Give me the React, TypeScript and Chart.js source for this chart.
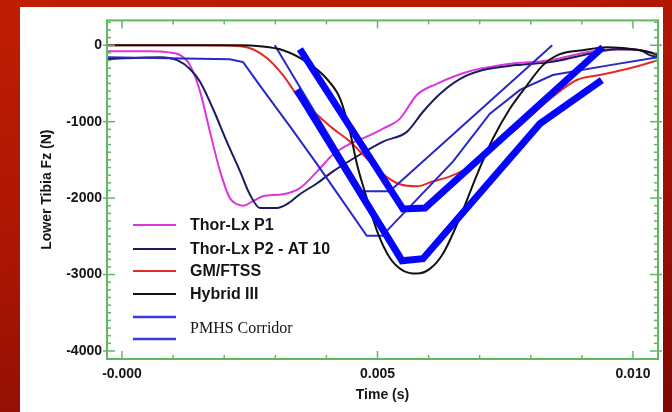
import React, { useEffect, useRef } from "react";
import { Chart, registerables } from "chart.js";

Chart.register(...registerables);

// ---- axis ticks ----
const X_TICKS = [0, 0.005, 0.01];
const X_TICK_LABELS = ["-0.000", "0.005", "0.010"];
const Y_TICKS = [0, -1000, -2000, -3000, -4000];
const X_MIN = -0.000294;
const X_MAX = 0.01049;
const Y_MIN = -4105;
const Y_MAX = 325;

// ---- series (time in s, Fz in N) ----
const THOR_P1_T = [-0.00029, 0.00055, 0.00088, 0.00114, 0.00133, 0.00153, 0.00172, 0.00192, 0.00211, 0.00225, 0.00237, 0.00256, 0.00276, 0.00315, 0.00348, 0.00382, 0.00413, 0.00446, 0.00479, 0.00511, 0.00544, 0.00577, 0.00616, 0.00675, 0.0074, 0.00838, 0.00935, 0.01, 0.01049];
const THOR_P1_FZ = [-80, -80, -90, -130, -260, -610, -1130, -1650, -2000, -2080, -2100, -2040, -1975, -1950, -1870, -1650, -1430, -1290, -1195, -1090, -960, -650, -505, -350, -260, -195, -65, -52, -117];

const THOR_P2_T = [-0.00029, 0.00074, 0.00108, 0.00133, 0.00153, 0.00178, 0.00205, 0.00231, 0.0025, 0.0027, 0.00303, 0.00323, 0.00348, 0.00382, 0.00413, 0.00466, 0.00511, 0.00558, 0.00589, 0.00622, 0.00661, 0.00706, 0.00773, 0.00838, 0.00902, 0.00969, 0.01014, 0.01033, 0.01049];
const THOR_P2_FZ = [-182, -156, -195, -312, -481, -831, -1260, -1650, -1949, -2130, -2130, -2078, -1949, -1805, -1650, -1429, -1260, -1130, -870, -637, -442, -325, -260, -221, -130, -52, -65, -130, -156];

const GM_FTSS_T = [-0.00029, 0.00153, 0.00231, 0.00256, 0.00284, 0.00315, 0.00348, 0.00382, 0.00413, 0.00446, 0.00479, 0.00511, 0.00544, 0.00577, 0.00609, 0.00642, 0.00675, 0.00706, 0.00773, 0.00838, 0.0089, 0.00935, 0.00988, 0.01049];
const GM_FTSS_FZ = [0, 0, -13, -52, -170, -390, -701, -909, -1091, -1260, -1481, -1689, -1819, -1845, -1780, -1715, -1611, -1429, -1091, -701, -455, -390, -312, -195];

const HYBRID_III_T = [-0.00029, 0.00231, 0.0027, 0.00315, 0.00362, 0.00401, 0.00427, 0.00446, 0.0046, 0.00479, 0.00499, 0.00524, 0.0055, 0.00577, 0.00603, 0.00628, 0.00661, 0.00695, 0.00726, 0.00759, 0.00793, 0.00824, 0.00857, 0.00902, 0.00949, 0.01, 0.01033, 0.01049];
const HYBRID_III_FZ = [0, 0, -13, -65, -221, -442, -701, -1130, -1559, -2000, -2429, -2780, -2949, -2988, -2923, -2728, -2260, -1689, -1221, -831, -520, -260, -117, -65, -26, -52, -91, -130];

const PMHS_THIN_LOW_T = [-0.00029, 0.00211, 0.00237, 0.00276, 0.00329, 0.00382, 0.00432, 0.00479, 0.00509, 0.00648, 0.0072, 0.00779, 0.00843, 0.00955, 0.01049];
const PMHS_THIN_LOW_FZ = [-156, -182, -221, -585, -1065, -1559, -2039, -2494, -2494, -1520, -896, -585, -390, -260, -156];

const PMHS_THIN_HIGH_T = [0.00299, 0.0047, 0.00524, 0.00842];
const PMHS_THIN_HIGH_FZ = [0, -1910, -1910, 0];

const PMHS_UPPER_T = [0.00348, 0.0055, 0.00593, 0.00941];
const PMHS_UPPER_FZ = [-52, -2143, -2130, -26];

const PMHS_LOWER_T = [0.00342, 0.00548, 0.00589, 0.00818, 0.00939];
const PMHS_LOWER_FZ = [-585, -2819, -2793, -1026, -455];

const LEGEND_LABELS = ["Thor-Lx P1", "Thor-Lx P2 - AT 10", "GM/FTSS", "Hybrid III"];
const LEGEND_COLORS = ["#dd35dd", "#1b1b62", "#e52a2a", "#111111"];
const PMHS_LABEL = "PMHS Corridor";

const pts = (t: number[], v: number[]) => t.map((x, i) => ({ x, y: v[i] }));

const FRAME = "#62b862";
const SANS = '"Liberation Sans", Arial, sans-serif';
const SERIF = '"Liberation Serif", "Times New Roman", serif';

const decorPlugin = {
  id: "decor",
  afterDatasetsDraw(chart: any) {
    const { ctx, chartArea: a, scales } = chart;
    const xs = scales.x;
    const ys = scales.y;
    ctx.save();
    ctx.strokeStyle = FRAME;
    ctx.lineWidth = 1.5;
    const tick = (x1: number, y1: number, x2: number, y2: number) => {
      ctx.beginPath();
      ctx.moveTo(x1, y1);
      ctx.lineTo(x2, y2);
      ctx.stroke();
    };
    for (let k = 0; k <= 10; k++) {
      const v = k * 0.001;
      const px = xs.getPixelForValue(v);
      const major = k % 5 === 0;
      const len = major ? 8 : 4;
      tick(px, a.bottom, px, a.bottom - len);
      tick(px, a.top, px, a.top + len);
    }
    for (let k = -41; k <= 3; k++) {
      const v = k * 100;
      const py = ys.getPixelForValue(v);
      if (py < a.top || py > a.bottom) continue;
      const major = k % 10 === 0;
      const len = major ? 8 : 4;
      tick(a.left, py, a.left + len, py);
      tick(a.right, py, a.right - len, py);
      if (major) {
        tick(a.left, py, a.left - 4, py);
        tick(a.right, py, a.right + 4, py);
      }
    }
    ctx.lineWidth = 2;
    ctx.strokeRect(a.left, a.top, a.right - a.left, a.bottom - a.top);
    ctx.restore();
  },
  afterDraw(chart: any) {
    const { ctx, chartArea: a } = chart;
    ctx.save();
    ctx.fillStyle = "#151515";
    ctx.font = `bold 14px ${SANS}`;
    ctx.textAlign = "center";
    ctx.textBaseline = "middle";
    ctx.save();
    ctx.translate(27, (a.top + a.bottom) / 2);
    ctx.rotate(-Math.PI / 2);
    ctx.fillText("Lower Tibia Fz (N)", 0, 0);
    ctx.restore();
    ctx.fillText("Time (s)", (a.left + a.right) / 2, 388);

    const lx1 = 113;
    const lx2 = 156;
    const tx = 170;
    const rows = [218, 242, 264, 287];
    ctx.textAlign = "left";
    ctx.font = `bold 16px ${SANS}`;
    rows.forEach((y, i) => {
      ctx.strokeStyle = LEGEND_COLORS[i];
      ctx.lineWidth = 2;
      ctx.beginPath();
      ctx.moveTo(lx1, y);
      ctx.lineTo(lx2, y);
      ctx.stroke();
      ctx.fillText(LEGEND_LABELS[i], tx, y + 1);
    });
    ctx.strokeStyle = "#3a3ae0";
    ctx.lineWidth = 2.5;
    [310, 332].forEach((y) => {
      ctx.beginPath();
      ctx.moveTo(lx1, y);
      ctx.lineTo(lx2, y);
      ctx.stroke();
    });
    ctx.font = `16px ${SERIF}`;
    ctx.fillText(PMHS_LABEL, tx, 322);
    ctx.restore();
  },
};

export default function App() {
  const ref = useRef<HTMLCanvasElement>(null);
  useEffect(() => {
    document.body.style.margin = "0";
    const curve = (label: string, t: number[], v: number[], color: string, order: number) => ({
      label,
      data: pts(t, v),
      borderColor: color,
      backgroundColor: color,
      borderWidth: 2,
      pointRadius: 0,
      cubicInterpolationMode: "monotone" as const,
      fill: false,
      order,
    });
    const corridor = (label: string, t: number[], v: number[], color: string, width: number, order: number) => ({
      label,
      data: pts(t, v),
      borderColor: color,
      backgroundColor: color,
      borderWidth: width,
      pointRadius: 0,
      tension: 0,
      borderJoinStyle: "miter" as const,
      borderCapStyle: "butt" as const,
      fill: false,
      order,
    });
    const chart = new Chart(ref.current!, {
      type: "line",
      data: {
        datasets: [
          corridor("PMHS Corridor upper", PMHS_UPPER_T, PMHS_UPPER_FZ, "#0505ff", 7, 0),
          corridor("PMHS Corridor lower", PMHS_LOWER_T, PMHS_LOWER_FZ, "#0505ff", 7, 0),
          corridor("PMHS thin high", PMHS_THIN_HIGH_T, PMHS_THIN_HIGH_FZ, "#2828c8", 2, 2),
          corridor("PMHS thin low", PMHS_THIN_LOW_T, PMHS_THIN_LOW_FZ, "#2828c8", 2, 2),
          curve(LEGEND_LABELS[3], HYBRID_III_T, HYBRID_III_FZ, LEGEND_COLORS[3], 1),
          curve(LEGEND_LABELS[2], GM_FTSS_T, GM_FTSS_FZ, LEGEND_COLORS[2], 3),
          curve(LEGEND_LABELS[1], THOR_P2_T, THOR_P2_FZ, LEGEND_COLORS[1], 3),
          curve(LEGEND_LABELS[0], THOR_P1_T, THOR_P1_FZ, LEGEND_COLORS[0], 4),
        ],
      },
      options: {
        animation: false,
        responsive: false,
        devicePixelRatio: 1,
        layout: { padding: { top: 12, right: 5, left: 0, bottom: 0 } },
        plugins: { legend: { display: false }, tooltip: { enabled: false } },
        scales: {
          x: {
            type: "linear",
            min: X_MIN,
            max: X_MAX,
            grid: { display: false, drawTicks: false },
            border: { display: false },
            afterBuildTicks: (s: any) => {
              s.ticks = X_TICKS.map((value) => ({ value }));
            },
            afterFit: (s: any) => {
              s.height = 53;
            },
            ticks: {
              padding: 7,
              maxRotation: 0,
              autoSkip: false,
              color: "#151515",
              font: { family: SANS, size: 14, weight: "bold" },
              callback: (_v: any, i: number) => X_TICK_LABELS[i],
            },
          },
          y: {
            type: "linear",
            min: Y_MIN,
            max: Y_MAX,
            grid: { display: false, drawTicks: false },
            border: { display: false },
            afterBuildTicks: (s: any) => {
              s.ticks = Y_TICKS.map((value) => ({ value }));
            },
            afterFit: (s: any) => {
              s.width = 87;
            },
            ticks: {
              padding: 5,
              autoSkip: false,
              color: "#151515",
              font: { family: SANS, size: 14, weight: "bold" },
              callback: (v: any) => String(v),
            },
          },
        },
      },
      plugins: [decorPlugin],
    } as any);
    return () => chart.destroy();
  }, []);

  return (
    <div
      style={{
        position: "fixed",
        left: 0,
        top: 0,
        width: 672,
        height: 412,
        overflow: "hidden",
        background: "linear-gradient(165deg, #bf1e02 0%, #aa1503 45%, #7c0a05 100%)",
      }}
    >
      <div style={{ position: "absolute", left: 20, top: 7, width: 643, height: 405, background: "#ffffff" }}>
        <canvas ref={ref} width={643} height={405} style={{ display: "block", width: 643, height: 405 }} />
      </div>
    </div>
  );
}
